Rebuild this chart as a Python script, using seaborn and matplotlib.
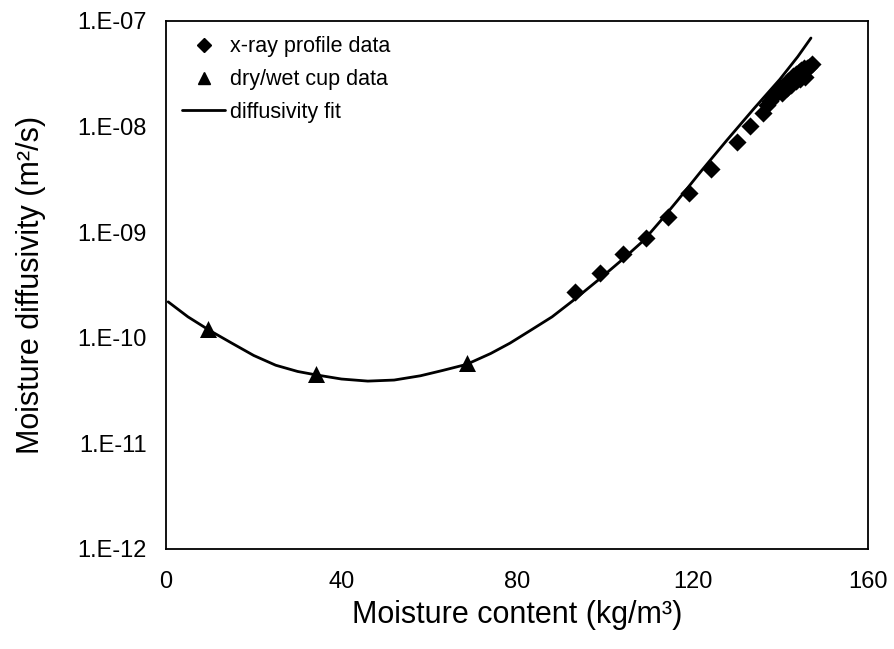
import matplotlib
matplotlib.use("Agg")
import matplotlib.pyplot as plt
import seaborn as sns
import pandas as pd
from matplotlib.ticker import FixedLocator, FuncFormatter, NullLocator
from matplotlib.lines import Line2D

# ---- data ----
xray_moisture = [93.2, 98.9, 104.2, 109.4, 114.5, 119.3, 124.2, 130.1, 133.1, 136.0,
                 137.0, 137.6, 138.2, 138.8, 139.4, 140.0, 140.6, 141.2, 141.8, 142.4,
                 143.0, 143.6, 144.2, 144.8, 145.4, 146.0, 146.6, 147.2,
                 140.5, 141.5, 142.5, 143.5, 144.5, 145.6]
xray_diffusivity = [2.73e-10, 4.08e-10, 6.17e-10, 8.75e-10, 1.38e-9, 2.33e-9, 4.0e-9, 7.2e-9, 1.01e-8, 1.35e-8,
                    1.6e-8, 1.75e-8, 1.9e-8, 2.0e-8, 2.15e-8, 2.3e-8, 2.45e-8, 2.55e-8, 2.7e-8, 2.85e-8,
                    3.0e-8, 3.15e-8, 3.3e-8, 3.4e-8, 3.55e-8, 3.6e-8, 3.7e-8, 3.9e-8,
                    2.1e-8, 2.3e-8, 2.5e-8, 2.7e-8, 2.85e-8, 2.97e-8]

cup_moisture = [9.6, 34.1, 68.5]
cup_diffusivity = [1.2e-10, 4.5e-11, 5.8e-11]

fit_moisture = [0.5, 5, 10, 15, 20, 25, 30, 34, 40, 46, 52, 58, 63, 68.5, 74, 78.4,
                83, 88, 93, 98.9, 104, 108.8, 113, 116.6, 122, 127.8, 134, 139.9, 144, 147]
fit_diffusivity = [2.19e-10, 1.58e-10, 1.17e-10, 8.9e-11, 6.8e-11, 5.5e-11, 4.8e-11, 4.47e-11,
                   4.07e-11, 3.89e-11, 3.98e-11, 4.37e-11, 4.9e-11, 5.6e-11, 7.1e-11, 8.9e-11,
                   1.17e-10, 1.58e-10, 2.29e-10, 3.63e-10, 5.5e-10, 8.3e-10, 1.32e-9, 2.0e-9,
                   3.8e-9, 7.4e-9, 1.48e-8, 2.8e-8, 4.6e-8, 6.9e-8]

x_ticks = [0, 40, 80, 120, 160]
y_ticks = [1e-12, 1e-11, 1e-10, 1e-9, 1e-8, 1e-7]
y_tick_labels = ["1.E-12", "1.E-11", "1.E-10", "1.E-09", "1.E-08", "1.E-07"]

labels = ["x-ray profile data", "dry/wet cup data", "diffusivity fit"]
xlabel = "Moisture content (kg/m\u00b3)"
ylabel = "Moisture diffusivity (m\u00b2/s)"

# ---- styling ----
sns.set_theme(style="white")
plt.rcParams["font.family"] = ["Liberation Sans", "DejaVu Sans"]

fig = plt.figure(figsize=(8.94, 6.49), dpi=100)
ax = fig.add_axes([166 / 894, 1 - 549 / 649, (868 - 166) / 894, (549 - 21) / 649])

df_x = pd.DataFrame({"w": xray_moisture, "D": xray_diffusivity})
df_c = pd.DataFrame({"w": cup_moisture, "D": cup_diffusivity})
df_f = pd.DataFrame({"w": fit_moisture, "D": fit_diffusivity})

sns.lineplot(data=df_f, x="w", y="D", ax=ax, color="black", linewidth=2.0,
             sort=False, estimator=None, zorder=2)
sns.scatterplot(data=df_x, x="w", y="D", ax=ax, marker="D", s=85, color="black",
                edgecolor="black", linewidth=0, zorder=3)
sns.scatterplot(data=df_c, x="w", y="D", ax=ax, marker="^", s=150, color="black",
                edgecolor="black", linewidth=0, zorder=3)

ax.set_yscale("log")
ax.set_xlim(0, 160)
ax.set_ylim(1e-12, 1e-7)
ax.xaxis.set_major_locator(FixedLocator(x_ticks))
ax.yaxis.set_major_locator(FixedLocator(y_ticks))
ax.yaxis.set_minor_locator(NullLocator())
ax.yaxis.set_major_formatter(FuncFormatter(lambda v, p: y_tick_labels[y_ticks.index(min(y_ticks, key=lambda t: abs(t - v) / t))]))
ax.tick_params(axis="both", which="both", length=0, labelsize=17, colors="black")
ax.tick_params(axis="y", pad=14)
ax.tick_params(axis="x", pad=16)

ax.set_xlabel(xlabel, fontsize=22, color="black", labelpad=5)
ax.set_ylabel(ylabel, fontsize=22, color="black", labelpad=22)

for sp in ax.spines.values():
    sp.set_visible(True)
    sp.set_color("black")
    sp.set_linewidth(1.3)

handles = [
    Line2D([], [], marker="D", linestyle="none", color="black", markersize=7),
    Line2D([], [], marker="^", linestyle="none", color="black", markersize=9),
    Line2D([], [], color="black", linewidth=2.0),
]
leg = ax.legend(handles, labels, loc="upper left", bbox_to_anchor=(0.02, 0.975),
                frameon=False, fontsize=15.5, handlelength=2.0, handletextpad=0.2,
                labelspacing=0.55, borderaxespad=0, borderpad=0.1)
for t in leg.get_texts():
    t.set_color("black")

fig.savefig("out.png", dpi=100)
